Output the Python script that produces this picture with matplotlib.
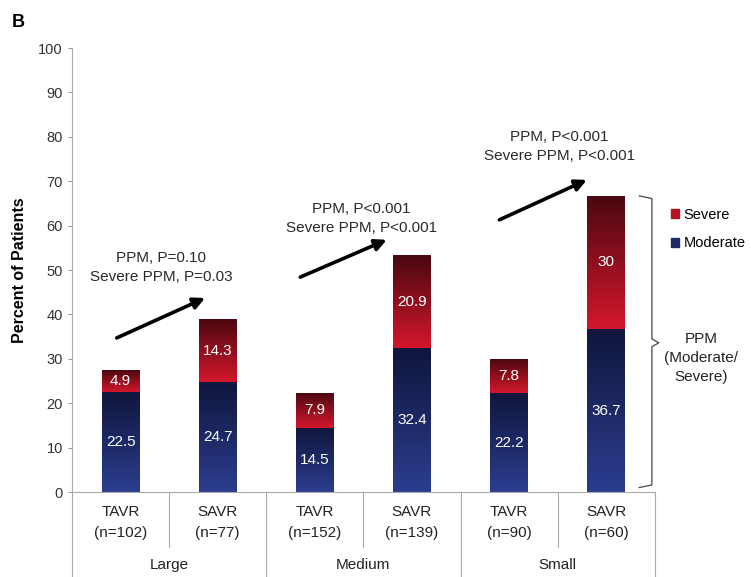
import matplotlib.pyplot as plt
import numpy as np
from matplotlib.patches import Patch
from matplotlib.colors import LinearSegmentedColormap
import matplotlib.transforms as mtransforms

plt.rcParams['font.family'] = ['Liberation Sans', 'DejaVu Sans']

procedures = ['TAVR', 'SAVR', 'TAVR', 'SAVR', 'TAVR', 'SAVR']
counts = ['(n=102)', '(n=77)', '(n=152)', '(n=139)', '(n=90)', '(n=60)']
groups = ['Large', 'Medium', 'Small']
moderate = [22.5, 24.7, 14.5, 32.4, 22.2, 36.7]
severe = [4.9, 14.3, 7.9, 20.9, 7.8, 30]
ppm_text = ['PPM, P=0.10\nSevere PPM, P=0.03',
            'PPM, P<0.001\nSevere PPM, P<0.001',
            'PPM, P<0.001\nSevere PPM, P<0.001']

fig = plt.figure(figsize=(7.51, 5.77), dpi=100)
ax = fig.add_axes([0.0959, 0.1473, 0.776, 0.7695])

x = np.arange(len(moderate))
w = 0.39
mod_cmap = LinearSegmentedColormap.from_list('mod', ['#2b3d8f', '#10163c'])
sev_cmap = LinearSegmentedColormap.from_list('sev', ['#d3172c', '#4a0810'])

b1 = ax.bar(x, moderate, w, color='#1f2a66', label='Moderate')
b2 = ax.bar(x, severe, w, bottom=moderate, color='#a8101f', label='Severe')

# vertical gradient fill, clipped to each bar segment
grad = np.linspace(0, 1, 100).reshape(-1, 1)
for bars, cmap in [(b1, mod_cmap), (b2, sev_cmap)]:
    for p in bars:
        x0, y0 = p.get_x(), p.get_y()
        im = ax.imshow(grad, cmap=cmap, aspect='auto', origin='lower',
                       extent=[x0, x0 + p.get_width(), y0, y0 + p.get_height()],
                       zorder=p.get_zorder() + 0.1)
        im.set_clip_path(p)

for i in range(len(x)):
    ax.text(x[i], moderate[i] / 2, str(moderate[i]), ha='center', va='center',
            color='white', fontsize=11, zorder=5)
    ax.text(x[i], moderate[i] + severe[i] / 2, str(severe[i]), ha='center',
            va='center', color='white', fontsize=11, zorder=5)

ax.set_xlim(-0.5, 5.5)
ax.set_ylim(0, 100)
ax.set_yticks(range(0, 101, 10))
ax.set_xticks([])
ax.tick_params(axis='y', labelsize=10.5, colors='#333333', length=3, color='#999999')
for s in ['top', 'right']:
    ax.spines[s].set_visible(False)
ax.spines['left'].set_color('#aaaaaa')
ax.spines['bottom'].set_color('#aaaaaa')
ax.set_ylabel('Percent of Patients', fontsize=11.5, fontweight='bold', labelpad=8)

# category labels and dividers below axis
tr = mtransforms.blended_transform_factory(ax.transData, ax.transAxes)
for i in range(len(x)):
    ax.text(x[i], -0.045, procedures[i], transform=tr, ha='center',
            va='center', fontsize=11, color='#222222')
    ax.text(x[i], -0.093, counts[i], transform=tr, ha='center',
            va='center', fontsize=11, color='#222222')
for j, g in enumerate(groups):
    ax.text(2 * j + 0.5, -0.165, g, transform=tr, ha='center', va='center',
            fontsize=11, color='#222222')
for k in range(7):
    xd = k - 0.5
    bottom = -0.124 if k % 2 == 1 else -0.2
    ax.plot([xd, xd], [0, bottom], transform=tr, color='#aaaaaa', lw=0.8,
            clip_on=False)

# arrows and p-values
arrows = [((-0.04, 34.7), (0.87, 43.7)),
          ((1.85, 48.4), (2.74, 56.8)),
          ((3.90, 61.3), (4.80, 70.3))]
text_pos = [(0.42, 50.5), (2.48, 61.7), (4.52, 77.9)]
for (s, e), tp, t in zip(arrows, text_pos, ppm_text):
    ax.annotate('', xy=e, xytext=s,
                arrowprops=dict(arrowstyle='-|>', color='black', lw=2.6,
                                mutation_scale=17, shrinkA=0, shrinkB=0))
    ax.text(tp[0], tp[1], t, ha='center', va='center', fontsize=11,
            color='#2a2a2a', linespacing=1.45)

# brace
top = moderate[5] + severe[5]
bx = [5.34, 5.47, 5.47, 5.54, 5.47, 5.47, 5.34]
by = [top, top - 0.6, 34.5, 33.6, 32.7, 1.6, 1.0]
ax.plot(bx, by, color='#444444', lw=0.9, clip_on=False)
ax.text(5.98, 30.2, 'PPM\n(Moderate/\nSevere)', ha='center', va='center',
        fontsize=11, color='#222222', linespacing=1.45, clip_on=False)

handles = [Patch(color='#b5121f', label='Severe'),
           Patch(color='#1f2a66', label='Moderate')]
fig.legend(handles=handles, loc='upper left', bbox_to_anchor=(0.893, 0.64),
           frameon=False, fontsize=10.5, handlelength=0.6, handleheight=0.6,
           handletextpad=0.3, labelspacing=1.0, borderpad=0, borderaxespad=0)

fig.text(0.015, 0.975, 'B', fontsize=13, fontweight='bold', va='top')

fig.savefig('out.png', dpi=100)
